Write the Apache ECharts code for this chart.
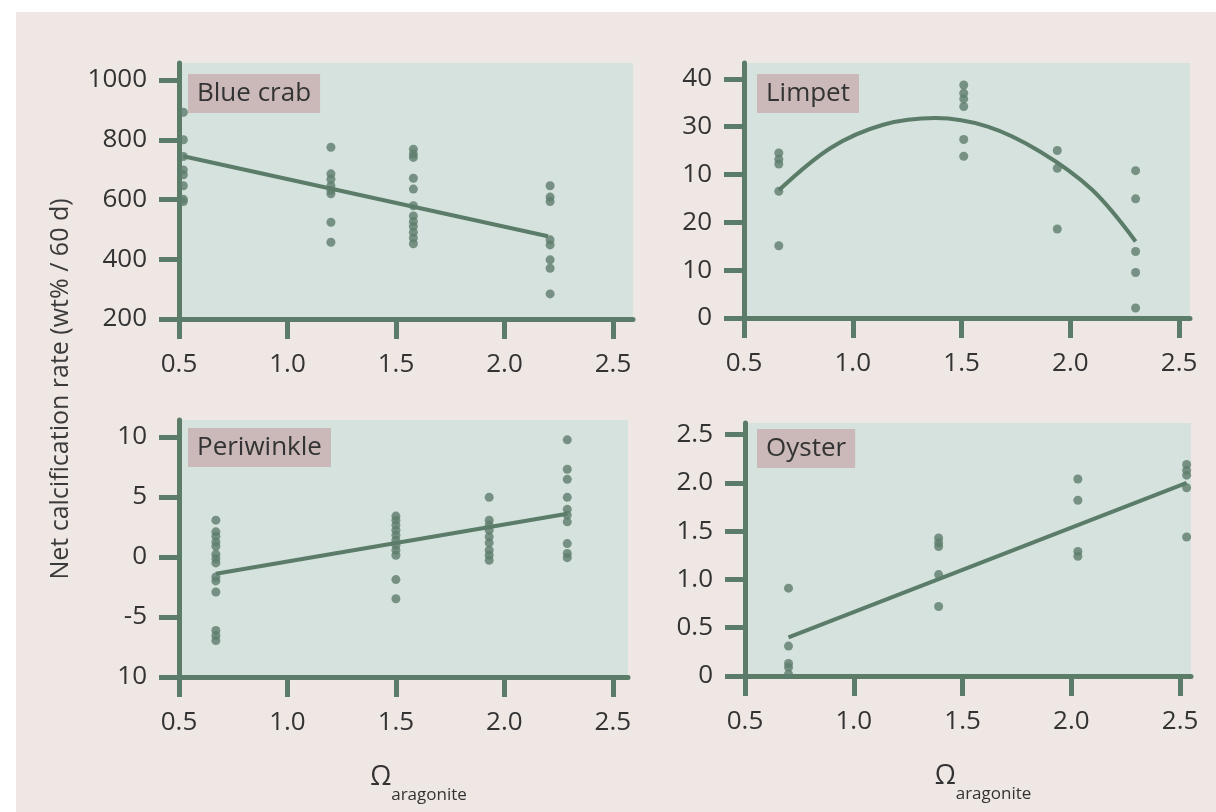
<!DOCTYPE html>
<html>
<head>
<meta charset="utf-8">
<title>Net calcification rate vs aragonite saturation</title>
<script src="https://cdn.jsdelivr.net/npm/echarts@6/dist/echarts.min.js"></script>
<style>
  html, body { margin: 0; padding: 0; background: #ffffff; }
  #bg { position: absolute; left: 16px; top: 12px; right: 0; bottom: 0; background: #efe7e4; }
  #main { position: absolute; left: 0; top: 0; width: 1216px; height: 812px; }
</style>
</head>
<body>
<div id="bg"></div>
<div id="main"></div>
<script>
// x ticks shared by all four panels
const xTicks = [0.5, 1.0, 1.5, 2.0, 2.5]

// Blue crab
const crabX = [0.52, 1.20, 1.58, 2.21]
const crabY = [
  [892, 800, 744, 699, 683, 646, 601, 593],
  [775, 686, 668, 646, 630, 619, 524, 457],
  [768, 752, 741, 671, 635, 579, 545, 526, 510, 490, 471, 452],
  [646, 608, 593, 465, 448, 398, 370, 284]
]
const crabFitX = [0.52, 2.2]
const crabFitY = [745, 477]
const crabTicks = [200, 400, 600, 800, 1000]
const crabTickLabels = ['200', '400', '600', '800', '1000']

// Limpet
const limpetX = [0.66, 1.51, 1.94, 2.30]
const limpetY = [
  [34.5, 33.2, 32.2, 26.5, 15.1],
  [48.7, 47.0, 45.8, 44.2, 37.3, 33.8],
  [35.0, 31.3, 18.6],
  [30.8, 24.9, 13.9, 9.5, 2.1]
]
const limpetFitX = [0.66, 0.9, 1.14, 1.38, 1.62, 1.86, 2.1, 2.3]
const limpetFitY = [26.7, 35.6, 40.4, 41.8, 40.0, 34.8, 26.8, 16.0]
const limpetTicks = [0, 10, 20, 30, 40, 50]
const limpetTickLabels = ['0', '10', '20', '10', '30', '40']

// Periwinkle
const periX = [0.67, 1.50, 1.93, 2.29]
const periY = [
  [3.06, 2.09, 1.73, 1.25, 0.89, 0.22, -0.14, -0.5, -1.67, -2.0, -2.92, -6.13, -6.55, -6.96],
  [3.4, 3.06, 2.65, 2.23, 1.81, 1.39, 0.97, 0.56, 0.14, -1.89, -3.48],
  [4.96, 3.06, 2.65, 2.23, 1.67, 1.17, 0.56, 0.14, -0.28],
  [9.75, 7.3, 6.46, 4.96, 3.96, 3.48, 2.92, 1.11, 0.28, -0.06]
]
const periFitX = [0.67, 2.29]
const periFitY = [-1.4, 3.6]
const periTicks = [-10, -5, 0, 5, 10]
const periTickLabels = ['10', '-5', '0', '5', '10']

// Oyster
const oysterX = [0.70, 1.39, 2.03, 2.53]
const oysterY = [
  [0.91, 0.31, 0.13, 0.09, 0.02],
  [1.43, 1.38, 1.34, 1.05, 0.72],
  [2.04, 1.82, 1.29, 1.24],
  [2.19, 2.13, 2.08, 1.95, 1.44]
]
const oysterFitX = [0.70, 2.53]
const oysterFitY = [0.40, 2.0]
const oysterTicks = [0, 0.5, 1.0, 1.5, 2.0, 2.5]
const oysterTickLabels = ['0', '0.5', '1.0', '1.5', '2.0', '2.5']

const names = ['Blue crab', 'Limpet', 'Periwinkle', 'Oyster']

const font = 'Open Sans'
const axisColor = '#5b7c69'
const dotColor = '#5e7d6c'
const textColor = '#333333'

const panels = [
  { xs: crabX, ys: crabY, fx: crabFitX, fy: crabFitY, ticks: crabTicks, labels: crabTickLabels,
    grid: { left: 179, top: 63, width: 454, height: 256 }, xMax: 2.592, yMin: 200, yMax: 1057, title: [188, 74] },
  { xs: limpetX, ys: limpetY, fx: limpetFitX, fy: limpetFitY, ticks: limpetTicks, labels: limpetTickLabels,
    grid: { left: 744, top: 63, width: 446, height: 255 }, xMax: 2.55, yMin: 0, yMax: 53.3, title: [757, 74], smooth: true },
  { xs: periX, ys: periY, fx: periFitX, fy: periFitY, ticks: periTicks, labels: periTickLabels,
    grid: { left: 179, top: 420, width: 449, height: 257 }, xMax: 2.57, yMin: -10, yMax: 11.4, title: [188, 428], xName: true },
  { xs: oysterX, ys: oysterY, fx: oysterFitX, fy: oysterFitY, ticks: oysterTicks, labels: oysterTickLabels,
    grid: { left: 745, top: 423, width: 446, height: 253 }, xMax: 2.55, yMin: 0, yMax: 2.62, title: [757, 429], xName: true }
]

const grids = []
const xAxes = []
const yAxes = []
const series = []
const titles = []

panels.forEach((p, i) => {
  grids.push(Object.assign({ show: true, backgroundColor: '#d5e2de', borderWidth: 0 }, p.grid))

  titles.push({
    text: names[i],
    left: p.title[0],
    top: p.title[1],
    backgroundColor: '#cbb8b9',
    padding: [5, 9, 4, 9],
    textStyle: { fontFamily: font, fontSize: 26, fontWeight: 'normal', color: textColor, lineHeight: 30 }
  })

  xAxes.push({
    type: 'value',
    gridIndex: i,
    min: 0.5,
    max: p.xMax,
    axisLine: { show: true, onZero: false, lineStyle: { color: axisColor, width: 5 } },
    axisTick: { show: true, customValues: xTicks, length: 20, lineStyle: { color: axisColor, width: 5 } },
    axisLabel: {
      customValues: xTicks,
      formatter: v => v.toFixed(1),
      margin: 33,
      fontFamily: font,
      fontSize: 26,
      color: textColor
    },
    splitLine: { show: false },
    name: p.xName ? '{o|Ω}{s|aragonite}' : '',
    nameLocation: 'middle',
    nameGap: 87,
    nameTextStyle: {
      padding: [0, 0, 0, 30],
      rich: {
        o: { fontFamily: font, fontSize: 27, color: textColor, lineHeight: 30, verticalAlign: 'top' },
        s: { fontFamily: font, fontSize: 17, color: textColor, lineHeight: 40, verticalAlign: 'bottom' }
      }
    }
  })

  yAxes.push({
    type: 'value',
    gridIndex: i,
    min: p.yMin,
    max: p.yMax,
    axisLine: { show: true, onZero: false, lineStyle: { color: axisColor, width: 5 } },
    axisTick: { show: true, customValues: p.ticks, length: 20, lineStyle: { color: axisColor, width: 5 } },
    axisLabel: {
      customValues: p.ticks,
      formatter: v => p.labels[p.ticks.indexOf(v)],
      margin: 32,
      fontFamily: font,
      fontSize: 26,
      color: textColor
    },
    splitLine: { show: false }
  })

  const pts = []
  p.xs.forEach((x, j) => {
    p.ys[j].forEach(y => pts.push([x, y]))
  })
  series.push({
    type: 'scatter',
    xAxisIndex: i,
    yAxisIndex: i,
    data: pts,
    symbolSize: 9,
    itemStyle: { color: dotColor },
    silent: true
  })
  series.push({
    type: 'line',
    xAxisIndex: i,
    yAxisIndex: i,
    data: p.fx.map((x, j) => [x, p.fy[j]]),
    showSymbol: false,
    smooth: p.smooth ? 0.35 : false,
    lineStyle: { color: axisColor, width: 4 },
    silent: true
  })
})

const chart = echarts.init(document.getElementById('main'), null, { renderer: 'canvas' })
chart.setOption({
  animation: false,
  textStyle: { fontFamily: font },
  title: titles,
  grid: grids,
  xAxis: xAxes,
  yAxis: yAxes,
  series: series,
  graphic: [{
    type: 'text',
    x: 61,
    y: 389,
    rotation: Math.PI / 2,
    style: {
      text: 'Net calcification rate (wt% / 60 d)',
      fontFamily: font,
      fontSize: 25,
      fill: '#3a3a3a',
      align: 'center',
      verticalAlign: 'middle'
    }
  }]
})
</script>
</body>
</html>
